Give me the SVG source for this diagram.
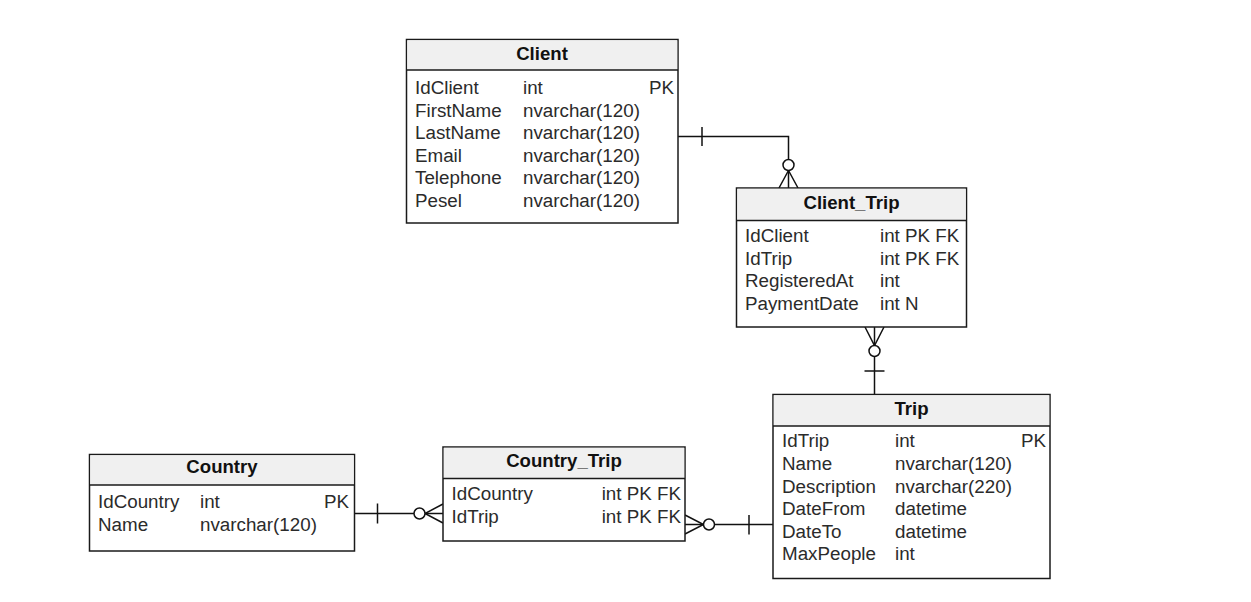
<svg xmlns="http://www.w3.org/2000/svg" width="1251" height="602" viewBox="0 0 1251 602">
<style>
.box{fill:#ffffff;stroke:#1a1a1a;stroke-width:1.5}
.head{fill:#f0f0f0;stroke:none}
.sep{stroke:#1a1a1a;stroke-width:1.5}
.title{font-family:"Liberation Sans",Arial,sans-serif;font-size:18.6px;font-weight:bold;fill:#111;text-anchor:middle}
.row{font-family:"Liberation Sans",Arial,sans-serif;font-size:18.8px;fill:#2b2b2b}
.end{text-anchor:end}
.ln{fill:none;stroke:#111;stroke-width:1.5}
.ring{fill:#ffffff;stroke:#111;stroke-width:1.5}
</style>
<rect width="1251" height="602" fill="#ffffff"/>
<g id="connectors">
  <!-- Client to Client_Trip -->
  <path class="ln" d="M678,136.5 H788.5 V188"/>
  <path class="ln" d="M702,127 V146"/>
  <path class="ln" d="M779,188 L788.5,170.5 L798,188"/>
  <circle class="ring" cx="788.5" cy="165" r="5.5"/>
  <!-- Client_Trip to Trip -->
  <path class="ln" d="M874.5,327 V394.5"/>
  <path class="ln" d="M865,327 L874.5,345.5 L884,327"/>
  <circle class="ring" cx="874.5" cy="351" r="5.5"/>
  <path class="ln" d="M864.5,371 H884.5"/>
  <!-- Country to Country_Trip -->
  <path class="ln" d="M354,513.5 H443"/>
  <path class="ln" d="M377.5,503.5 V523.5"/>
  <path class="ln" d="M443,504 L425,513.5 L443,523"/>
  <circle class="ring" cx="419.5" cy="513.5" r="5.5"/>
  <!-- Country_Trip to Trip -->
  <path class="ln" d="M685,524.5 H773"/>
  <path class="ln" d="M685,515 L703.5,524.5 L685,534"/>
  <circle class="ring" cx="709" cy="524.5" r="5.5"/>
  <path class="ln" d="M749,515 V534.5"/>
</g>
<g id="Client">
  <rect class="box" x="406.5" y="39.5" width="271.5" height="183.5"/>
  <rect class="head" x="407.25" y="40.25" width="270" height="29.75"/>
  <line class="sep" x1="406.5" y1="70" x2="678" y2="70"/>
  <text class="title" x="542" y="60">Client</text>
  <text class="row" x="415" y="94">IdClient</text><text class="row" x="523" y="94">int</text><text class="row end" x="674" y="94">PK</text>
  <text class="row" x="415" y="116.6">FirstName</text><text class="row" x="523" y="116.6">nvarchar(120)</text>
  <text class="row" x="415" y="139.2">LastName</text><text class="row" x="523" y="139.2">nvarchar(120)</text>
  <text class="row" x="415" y="161.8">Email</text><text class="row" x="523" y="161.8">nvarchar(120)</text>
  <text class="row" x="415" y="184.4">Telephone</text><text class="row" x="523" y="184.4">nvarchar(120)</text>
  <text class="row" x="415" y="207">Pesel</text><text class="row" x="523" y="207">nvarchar(120)</text>
</g>
<g id="Client_Trip">
  <rect class="box" x="736.5" y="188" width="230" height="139"/>
  <rect class="head" x="737.25" y="188.75" width="228.5" height="31.75"/>
  <line class="sep" x1="736.5" y1="220.5" x2="966.5" y2="220.5"/>
  <text class="title" x="851.5" y="208.5">Client_Trip</text>
  <text class="row" x="745" y="241.7">IdClient</text><text class="row" x="880" y="241.7">int PK FK</text>
  <text class="row" x="745" y="264.5">IdTrip</text><text class="row" x="880" y="264.5">int PK FK</text>
  <text class="row" x="745" y="287.2">RegisteredAt</text><text class="row" x="880" y="287.2">int</text>
  <text class="row" x="745" y="310">PaymentDate</text><text class="row" x="880" y="310">int N</text>
</g>
<g id="Trip">
  <rect class="box" x="773" y="394.5" width="277" height="184"/>
  <rect class="head" x="773.75" y="395.25" width="275.5" height="30.75"/>
  <line class="sep" x1="773" y1="426" x2="1050" y2="426"/>
  <text class="title" x="911.5" y="415">Trip</text>
  <text class="row" x="782" y="447.3">IdTrip</text><text class="row" x="895" y="447.3">int</text><text class="row end" x="1046" y="447.3">PK</text>
  <text class="row" x="782" y="469.9">Name</text><text class="row" x="895" y="469.9">nvarchar(120)</text>
  <text class="row" x="782" y="492.5">Description</text><text class="row" x="895" y="492.5">nvarchar(220)</text>
  <text class="row" x="782" y="515.1">DateFrom</text><text class="row" x="895" y="515.1">datetime</text>
  <text class="row" x="782" y="537.7">DateTo</text><text class="row" x="895" y="537.7">datetime</text>
  <text class="row" x="782" y="560.3">MaxPeople</text><text class="row" x="895" y="560.3">int</text>
</g>
<g id="Country">
  <rect class="box" x="89.5" y="454.5" width="265" height="96.5"/>
  <rect class="head" x="90.25" y="455.25" width="263.5" height="29.75"/>
  <line class="sep" x1="89.5" y1="485" x2="354.5" y2="485"/>
  <text class="title" x="222" y="473.3">Country</text>
  <text class="row" x="98" y="508">IdCountry</text><text class="row" x="200" y="508">int</text><text class="row end" x="349" y="508">PK</text>
  <text class="row" x="98" y="530.6">Name</text><text class="row" x="200" y="530.6">nvarchar(120)</text>
</g>
<g id="Country_Trip">
  <rect class="box" x="443" y="447" width="242" height="94"/>
  <rect class="head" x="443.75" y="447.75" width="240.5" height="30.75"/>
  <line class="sep" x1="443" y1="478.5" x2="685" y2="478.5"/>
  <text class="title" x="564" y="466.7">Country_Trip</text>
  <text class="row" x="451.5" y="500">IdCountry</text><text class="row end" x="681" y="500">int PK FK</text>
  <text class="row" x="451.5" y="522.6">IdTrip</text><text class="row end" x="681" y="522.6">int PK FK</text>
</g>
</svg>
